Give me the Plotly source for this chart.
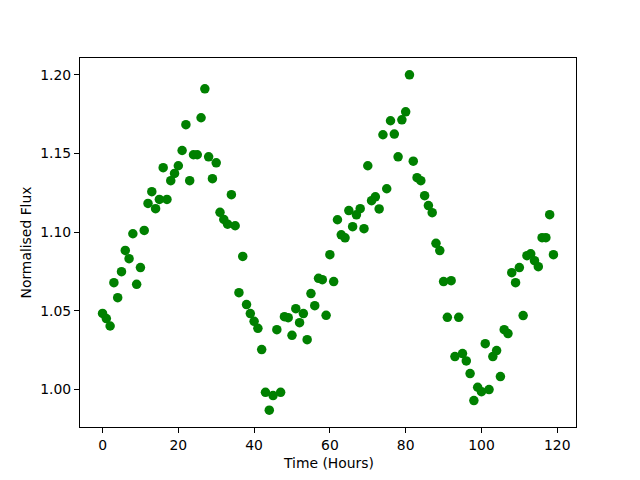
import plotly.graph_objects as go

time_hours = list(range(0, 120))
flux = [
    1.0484, 1.0451, 1.0404, 1.0679, 1.0584, 1.0749, 1.0884, 1.0832, 1.0990, 1.0669,
    1.0775, 1.1011, 1.1183, 1.1257, 1.1149, 1.1208, 1.1410, 1.1208, 1.1327, 1.1373,
    1.1422, 1.1519, 1.1683, 1.1327, 1.1492, 1.1492, 1.1727, 1.1911, 1.1479, 1.1340,
    1.1441, 1.1126, 1.1081, 1.1051, 1.1238, 1.1041, 1.0616, 1.0846, 1.0540, 1.0483,
    1.0434, 1.0389, 1.0254, 0.9983, 0.9869, 0.9962, 1.0381, 0.9983, 1.0463, 1.0457,
    1.0345, 1.0514, 1.0425, 1.0483, 1.0317, 1.0610, 1.0533, 1.0707, 1.0698, 1.0472,
    1.0857, 1.0686, 1.1079, 1.0983, 1.0964, 1.1137, 1.1035, 1.1110, 1.1149, 1.1022,
    1.1422, 1.1200, 1.1225, 1.1148, 1.1619, 1.1276, 1.1708, 1.1623, 1.1479, 1.1714,
    1.1765, 1.2000, 1.1451, 1.1346, 1.1327, 1.1232, 1.1169, 1.1124, 1.0929, 1.0883,
    1.0686, 1.0459, 1.0692, 1.0210, 1.0459, 1.0229, 1.0182, 1.0102, 0.9930, 1.0015,
    0.9987, 1.0292, 1.0000, 1.0210, 1.0248, 1.0083, 1.0381, 1.0356, 1.0743, 1.0679,
    1.0775, 1.0470, 1.0851, 1.0863, 1.0819, 1.0781, 1.0965, 1.0965, 1.1111, 1.0857,
]
x_ticks = [0, 20, 40, 60, 80, 100, 120]
y_ticks = [1.00, 1.05, 1.10, 1.15, 1.20]
y_tick_labels = ["1.00", "1.05", "1.10", "1.15", "1.20"]

xmin, xmax = min(time_hours), max(time_hours)
ymin, ymax = min(flux), max(flux)
xm = 0.05 * (xmax - xmin)
ym = 0.05 * (ymax - ymin)

FONT = dict(family="DejaVu Sans", size=13.9, color="black")

fig = go.Figure(go.Scatter(
    x=time_hours, y=flux, mode="markers",
    marker=dict(color="#008000", size=9.5, line=dict(width=0)),
))

axis_common = dict(
    showline=True, linecolor="black", linewidth=1, mirror=True,
    ticks="outside", ticklen=5, tickwidth=1, tickcolor="black",
    showgrid=False, zeroline=False, automargin=False,
    tickfont=FONT,
)

# page body has an 8px margin, so the figure is offset by 8px
fig.update_layout(
    width=640, height=480,
    margin=dict(l=72, r=72, t=50, b=61),
    paper_bgcolor="white", plot_bgcolor="white",
    showlegend=False,
    font=FONT,
    xaxis=dict(range=[xmin - xm, xmax + xm], tickvals=x_ticks, **axis_common),
    yaxis=dict(range=[ymin - ym, ymax + ym], tickvals=y_ticks,
               ticktext=y_tick_labels, **axis_common),
    annotations=[
        dict(text="Time (Hours)", xref="paper", yref="paper", x=0.5, y=0,
             yshift=-36, xanchor="center", yanchor="middle", showarrow=False,
             font=FONT),
        dict(text="Normalised Flux", xref="paper", yref="paper", x=0, y=0.5,
             xshift=-55, xanchor="center", yanchor="middle", showarrow=False,
             textangle=-90, font=FONT),
    ],
)

fig.write_html("out.html")
